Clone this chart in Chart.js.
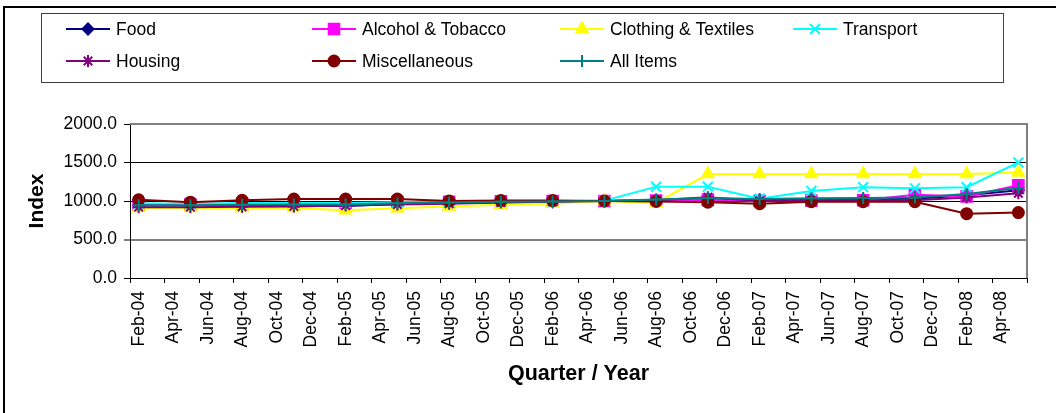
<!DOCTYPE html>
<html>
<head>
<meta charset="utf-8">
<title>Price Index by Quarter</title>
<script src="https://cdn.jsdelivr.net/npm/chart.js@4.4.1/dist/chart.umd.min.js"></script>
<style>
    html, body { margin: 0; padding: 0; background: #fff; }
    canvas { display: block; }
</style>
</head>
<body>
<canvas id="indexChart" width="1056" height="413"></canvas>
<script>
// months counted from Feb-04 for each quarterly reading
const quarterMonths = [0, 3, 6, 9, 12, 15, 18, 21, 24, 27, 30, 33, 36, 39, 42, 45, 48, 51];

// labels under the x axis, one every two months
const monthLabels = ['Feb-04', 'Apr-04', 'Jun-04', 'Aug-04', 'Oct-04', 'Dec-04',
    'Feb-05', 'Apr-05', 'Jun-05', 'Aug-05', 'Oct-05', 'Dec-05',
    'Feb-06', 'Apr-06', 'Jun-06', 'Aug-06', 'Oct-06', 'Dec-06',
    'Feb-07', 'Apr-07', 'Jun-07', 'Aug-07', 'Oct-07', 'Dec-07',
    'Feb-08', 'Apr-08'];

const yTicks = [0, 500, 1000, 1500, 2000];

// index values
const food = [940, 940, 945, 945, 935, 960, 975, 985, 990, 1000, 1010, 1030, 1010, 1020, 1025, 1030, 1075, 1140];
const alcohol = [950, 955, 960, 965, 965, 985, 990, 995, 1000, 1000, 1005, 1015, 1000, 1005, 1010, 1080, 1060, 1205];
const clothing = [910, 910, 910, 910, 880, 905, 930, 950, 965, 1000, 975, 1350, 1350, 1350, 1350, 1350, 1350, 1370];
const transport = [970, 965, 975, 975, 975, 985, 985, 990, 995, 1005, 1185, 1185, 1030, 1130, 1180, 1165, 1180, 1500];
const housing = [920, 920, 925, 930, 940, 955, 965, 980, 990, 1000, 1010, 1050, 1000, 1000, 1005, 1010, 1045, 1100];
const misc = [1015, 985, 1010, 1025, 1025, 1025, 1000, 1005, 1005, 1000, 995, 985, 965, 990, 990, 990, 835, 850];
const allItems = [945, 945, 950, 955, 955, 970, 980, 990, 995, 1000, 1020, 1040, 1025, 1035, 1040, 1045, 1090, 1170];

const FONT = '"Liberation Sans", Arial, sans-serif';

const series = [
    { label: 'Food', values: food, color: '#000080', marker: 'rectRot', radius: 5.5 },
    { label: 'Alcohol & Tobacco', values: alcohol, color: '#ff00ff', marker: 'rect', radius: 7.5 },
    { label: 'Clothing & Textiles', values: clothing, color: '#ffff00', marker: 'triangle', radius: 6.5 },
    { label: 'Transport', values: transport, color: '#00ffff', marker: 'crossRot', radius: 7 },
    { label: 'Housing', values: housing, color: '#800080', marker: 'star', radius: 6 },
    { label: 'Miscellaneous', values: misc, color: '#800000', marker: 'circle', radius: 5.5 },
    { label: 'All Items', values: allItems, color: '#008080', marker: 'cross', radius: 6 }
];

// outer frame of the chart
const frame = {
    id: 'frame',
    beforeDraw(chart) {
        const ctx = chart.ctx;
        ctx.save();
        ctx.fillStyle = '#fff';
        ctx.fillRect(0, 0, chart.width, chart.height);
        ctx.strokeStyle = '#000';
        ctx.lineWidth = 2;
        ctx.strokeRect(4, 7, chart.width + 20, chart.height + 20);
        ctx.restore();
    },
    // grey plot border on top and right
    beforeDatasetsDraw(chart) {
        const { ctx, chartArea: a } = chart;
        ctx.save();
        ctx.strokeStyle = '#808080';
        ctx.lineWidth = 2;
        ctx.beginPath();
        ctx.moveTo(a.left, a.top);
        ctx.lineTo(a.right, a.top);
        ctx.lineTo(a.right, a.bottom);
        ctx.stroke();
        ctx.restore();
    }
};

// boxed legend laid out in four columns
const boxLegend = {
    id: 'boxLegend',
    afterDraw(chart) {
        const ctx = chart.ctx;
        const cols = [66, 312, 560, 793];
        const rows = [29, 61];
        ctx.save();
        ctx.strokeStyle = '#404040';
        ctx.lineWidth = 1;
        ctx.strokeRect(41.5, 13.5, 962, 69);
        chart.data.datasets.forEach((ds, i) => {
            const x = cols[i % 4];
            const y = rows[Math.floor(i / 4)];
            ctx.strokeStyle = ds.borderColor;
            ctx.lineWidth = 2;
            ctx.beginPath();
            ctx.moveTo(x, y);
            ctx.lineTo(x + 44, y);
            ctx.stroke();
            ctx.fillStyle = ds.pointBackgroundColor;
            ctx.strokeStyle = ds.pointBorderColor;
            ctx.lineWidth = ds.pointBorderWidth;
            Chart.helpers.drawPoint(ctx, {
                pointStyle: ds.pointStyle,
                radius: ds.pointRadius,
                rotation: 0,
                borderWidth: ds.pointBorderWidth
            }, x + 22, y);
            ctx.fillStyle = '#000';
            ctx.font = '17.5px ' + FONT;
            ctx.textAlign = 'left';
            ctx.textBaseline = 'middle';
            ctx.fillText(ds.label, x + 50, y + 1);
        });
        ctx.restore();
    }
};

Chart.defaults.font.family = FONT;
Chart.defaults.font.size = 17.5;
Chart.defaults.color = '#000';

const ctx = document.getElementById('indexChart').getContext('2d');
new Chart(ctx, {
    type: 'line',
    data: {
        datasets: series.map((s, i) => ({
            label: s.label,
            data: quarterMonths.map((m, j) => ({ x: m, y: s.values[j] })),
            borderColor: s.color,
            backgroundColor: s.color,
            borderWidth: 2,
            pointStyle: s.marker,
            pointRadius: s.radius,
            pointBackgroundColor: s.color,
            pointBorderColor: s.color,
            pointBorderWidth: 2,
            tension: 0,
            fill: false,
            // later series sit on top, as in the original
            order: series.length - i
        }))
    },
    options: {
        responsive: false,
        animation: false,
        layout: { padding: { top: 124, right: 19, left: 0, bottom: 0 } },
        plugins: {
            legend: { display: false },
            tooltip: { enabled: false }
        },
        scales: {
            x: {
                type: 'linear',
                min: -0.5,
                max: 51.5,
                afterBuildTicks(scale) {
                    // tick marks between months, one per label plus the closing one
                    scale.ticks = monthLabels.concat(['']).map((l, k) => ({ value: k * 2 - 0.5 }));
                },
                afterFit(scale) { scale.height = 135; },
                ticks: {
                    autoSkip: false,
                    maxRotation: 90,
                    minRotation: 90,
                    padding: 8,
                    labelOffset: 8.7,
                    callback: (v, i) => monthLabels[i] || ''
                },
                grid: {
                    drawOnChartArea: false,
                    drawTicks: true,
                    tickLength: 5,
                    tickColor: '#000'
                },
                border: { color: '#000', width: 1 },
                title: {
                    display: true,
                    text: 'Quarter / Year',
                    font: { size: 21.5, weight: 'bold' },
                    padding: { top: 0, bottom: 26 }
                }
            },
            y: {
                min: 0,
                max: 2000,
                afterBuildTicks(scale) {
                    scale.ticks = yTicks.map(v => ({ value: v }));
                },
                afterFit(scale) { scale.width = 130; },
                ticks: {
                    padding: 7,
                    callback: v => v.toFixed(1)
                },
                grid: {
                    color: c => (c.tick && c.tick.value === 500) ? '#808080' : '#000',
                    lineWidth: c => (c.tick && c.tick.value === 500) ? 2 : 1,
                    tickLength: 6,
                    tickColor: '#000',
                    tickWidth: 1
                },
                border: { color: '#000', width: 1 },
                title: {
                    display: true,
                    text: 'Index',
                    font: { size: 21, weight: 'bold' },
                    padding: { top: 25, bottom: 0 }
                }
            }
        }
    },
    plugins: [frame, boxLegend]
});
</script>
</body>
</html>
